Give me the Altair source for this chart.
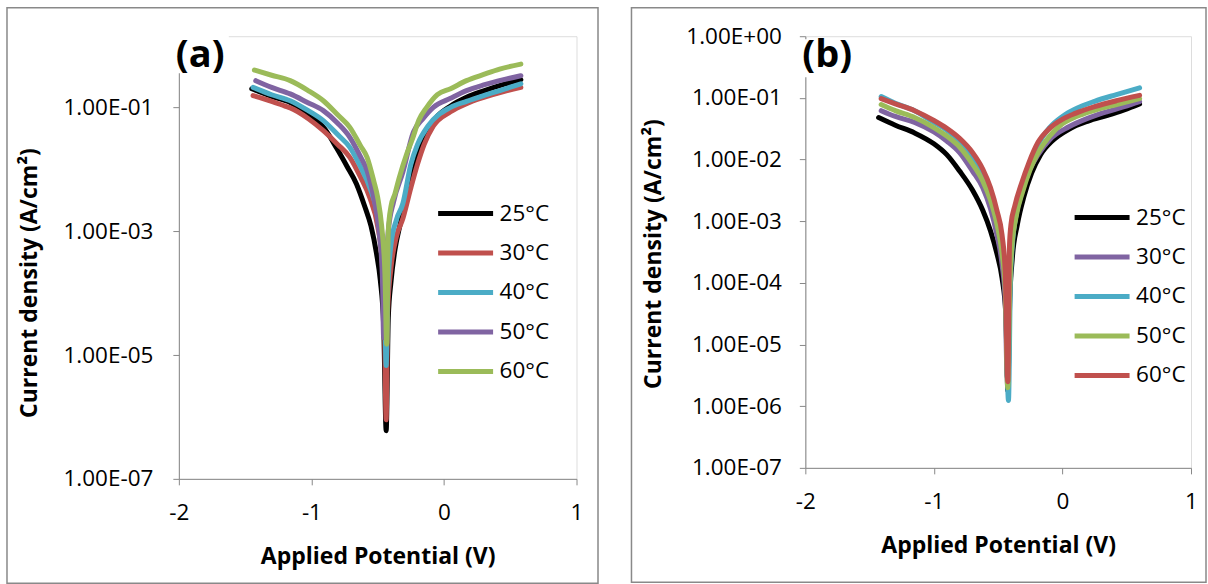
import altair as alt
import pandas as pd

SERIES = ["25°C", "30°C", "40°C", "50°C", "60°C"]
A_COLORS = ["#000000", "#C0504D", "#4BACC6", "#8064A2", "#9BBB59"]
B_COLORS = ["#000000", "#8064A2", "#4BACC6", "#9BBB59", "#C0504D"]

# ---- panel (a): potential (V) and current density (A/cm2) ----
a25_E = [-1.45, -1.30, -1.16, -1.02, -0.90, -0.81, -0.73, -0.66, -0.60, -0.55, -0.51, -0.48, -0.455, -0.436,
         -0.42, -0.40, -0.37, -0.33, -0.28, -0.22, -0.15, -0.06, 0.05, 0.17, 0.30, 0.45, 0.58]
a25_i = [0.20, 0.15, 0.12, 0.078, 0.045, 0.022, 0.011, 5.8e-3, 2.6e-3, 1.2e-3, 4.5e-4, 1.6e-4, 3e-5, 6e-7,
         4e-5, 1.5e-4, 5e-4, 1.3e-3, 3.8e-3, 0.011, 0.034, 0.068, 0.105, 0.145, 0.185, 0.235, 0.28]

a30_E = [-1.44, -1.30, -1.20, -1.16, -1.02, -0.91, -0.80, -0.71, -0.63, -0.56, -0.50, -0.47, -0.45, -0.436,
         -0.425, -0.40, -0.36, -0.31, -0.25, -0.20, -0.15, -0.08, 0.05, 0.17, 0.30, 0.45, 0.58]
a30_i = [0.155, 0.125, 0.105, 0.098, 0.065, 0.042, 0.025, 0.0156, 7.5e-3, 3.5e-3, 1.2e-3, 4e-4, 5e-5, 9e-7,
         5e-5, 2.5e-4, 8e-4, 1.6e-3, 5e-3, 0.012, 0.025, 0.05, 0.085, 0.115, 0.145, 0.18, 0.21]

a40_E = [-1.44, -1.30, -1.16, -1.03, -0.91, -0.80, -0.71, -0.63, -0.56, -0.50, -0.47, -0.45, -0.436,
         -0.425, -0.40, -0.36, -0.31, -0.25, -0.20, -0.12, 0.05, 0.17, 0.30, 0.45, 0.58]
a40_i = [0.21, 0.16, 0.128, 0.09, 0.061, 0.036, 0.0226, 0.011, 5.1e-3, 1.8e-3, 6e-4, 1e-4, 6.8e-6,
         1e-4, 6e-4, 1.5e-3, 2.8e-3, 0.012, 0.025, 0.05, 0.1, 0.125, 0.155, 0.195, 0.24]

a50_E = [-1.42, -1.30, -1.16, -1.03, -0.91, -0.80, -0.71, -0.63, -0.58, -0.53, -0.49, -0.465, -0.455,
         -0.44, -0.42, -0.38, -0.31, -0.23, -0.16, -0.08, 0.05, 0.17, 0.30, 0.45, 0.58]
a50_i = [0.27, 0.21, 0.165, 0.12, 0.0885, 0.055, 0.0328, 0.016, 9.5e-3, 3.5e-3, 1e-3, 2e-4, 1.9e-5,
         2e-4, 1e-3, 3e-3, 9e-3, 0.04, 0.065, 0.1, 0.14, 0.186, 0.23, 0.28, 0.325]

a60_E = [-1.43, -1.30, -1.16, -1.03, -0.91, -0.80, -0.71, -0.63, -0.58, -0.53, -0.50, -0.47, -0.445, -0.432,
         -0.42, -0.40, -0.37, -0.34, -0.28, -0.24, -0.19, -0.13, -0.05, 0.05, 0.17, 0.30, 0.42, 0.58]
a60_i = [0.40, 0.33, 0.27, 0.19, 0.128, 0.075, 0.0475, 0.024, 0.0156, 6.5e-3, 3.5e-3, 1.2e-3, 2e-4, 1.5e-5,
         1e-3, 2.5e-3, 4e-3, 7e-3, 0.018, 0.03, 0.062, 0.1, 0.16, 0.2, 0.27, 0.34, 0.415, 0.50]

# ---- panel (b) ----
b25_E = [-1.43, -1.30, -1.15, -1.00, -0.90, -0.80, -0.70, -0.62, -0.56, -0.51, -0.47, -0.44, -0.425,
         -0.41, -0.39, -0.35, -0.30, -0.24, -0.17, -0.08, 0.05, 0.20, 0.35, 0.48, 0.60]
b25_i = [0.048, 0.036, 0.027, 0.018, 0.012, 6.5e-3, 3.2e-3, 1.5e-3, 7e-4, 3e-4, 1.2e-4, 3e-5, 1.8e-6,
         5e-5, 2.5e-4, 9e-4, 2.5e-3, 6e-3, 0.012, 0.02, 0.031, 0.042, 0.052, 0.064, 0.08]

b30_E = [-1.41, -1.30, -1.15, -1.00, -0.90, -0.80, -0.70, -0.62, -0.56, -0.51, -0.47, -0.445, -0.43,
         -0.415, -0.40, -0.37, -0.32, -0.26, -0.19, -0.10, 0.05, 0.20, 0.35, 0.48, 0.60]
b30_i = [0.062, 0.05, 0.04, 0.028, 0.02, 0.013, 6.5e-3, 3.5e-3, 1.6e-3, 6e-4, 2e-4, 5e-5, 3e-6,
         6e-5, 3e-4, 1e-3, 2.8e-3, 6.5e-3, 0.012, 0.021, 0.034, 0.047, 0.06, 0.072, 0.087]

b40_E = [-1.41, -1.30, -1.15, -1.00, -0.90, -0.80, -0.70, -0.62, -0.56, -0.51, -0.47, -0.445, -0.42,
         -0.405, -0.39, -0.36, -0.31, -0.25, -0.18, -0.10, 0.0, 0.10, 0.25, 0.42, 0.60]
b40_i = [0.105, 0.082, 0.062, 0.04, 0.03, 0.02, 0.011, 6e-3, 2.8e-3, 1.2e-3, 4e-4, 1.2e-4, 1.24e-6,
         1e-4, 4e-4, 1.3e-3, 3.5e-3, 8.5e-3, 0.019, 0.033, 0.05, 0.066, 0.088, 0.113, 0.145]

b50_E = [-1.41, -1.30, -1.15, -1.00, -0.90, -0.80, -0.70, -0.62, -0.56, -0.51, -0.47, -0.445, -0.425,
         -0.41, -0.395, -0.36, -0.31, -0.25, -0.18, -0.10, 0.0, 0.10, 0.25, 0.42, 0.60]
b50_i = [0.078, 0.062, 0.048, 0.033, 0.024, 0.016, 8.5e-3, 4.5e-3, 2.2e-3, 9e-4, 3e-4, 8e-5, 2e-6,
         8e-5, 3.5e-4, 1.2e-3, 3e-3, 7e-3, 0.014, 0.024, 0.038, 0.049, 0.063, 0.078, 0.097]

b60_E = [-1.41, -1.30, -1.15, -1.00, -0.90, -0.80, -0.70, -0.62, -0.56, -0.51, -0.47, -0.445, -0.425,
         -0.412, -0.40, -0.37, -0.32, -0.26, -0.19, -0.10, 0.0, 0.10, 0.25, 0.42, 0.60]
b60_i = [0.097, 0.08, 0.062, 0.043, 0.032, 0.022, 0.013, 7e-3, 3.5e-3, 1.5e-3, 6e-4, 1.5e-4, 2.5e-6,
         4e-4, 9e-4, 1.8e-3, 4e-3, 9e-3, 0.019, 0.032, 0.045, 0.056, 0.072, 0.09, 0.11]

A_YTICKS = [1e-7, 1e-5, 1e-3, 1e-1]
B_YTICKS = [1e-7, 1e-6, 1e-5, 1e-4, 1e-3, 1e-2, 1e-1, 1e0]
X_TICKS = [-2, -1, 0, 1]

FONT = "Open Sans"
AXIS_GREY = "#868686"
SCI_LABEL = ("'1.00E' + (round(log(datum.value)/LN10) < 0 ? '-' : '+') + "
             "(abs(round(log(datum.value)/LN10)) < 10 ? '0' : '') + abs(round(log(datum.value)/LN10))")


def table(pairs):
    rows = []
    for name, es, cur in pairs:
        for k, (e, c) in enumerate(zip(es, cur)):
            rows.append({"series": name, "E": e, "i": c, "k": k})
    return pd.DataFrame(rows)


def panel(df, colors, tag, width, height, ymax, yticks, ylabel_pad, leg_x, leg_y,
          ytitle_x, ytitle_y, frame_box, cover_box):
    one = alt.Data(values=[{}])
    x = alt.X("E:Q",
              scale=alt.Scale(domain=[-2, 1], nice=False, zero=False),
              axis=alt.Axis(values=X_TICKS, labelExpr="'' + datum.value", grid=False,
                            labelFlush=False, labelOverlap=False,
                            tickSize=6, labelPadding=17, labelFontSize=22.5, labelFont=FONT,
                            title="Applied Potential (V)", titleFont=FONT, titleFontSize=23,
                            titleFontWeight="bold", titleX=width / 2, titleY=85,
                            titleBaseline="alphabetic"))
    y = alt.Y("i:Q",
              scale=alt.Scale(type="log", domain=[1e-7, ymax], nice=False),
              axis=alt.Axis(values=yticks, labelExpr=SCI_LABEL, grid=False,
                            labelFlush=False, labelOverlap=False,
                            tickSize=6, labelPadding=ylabel_pad, labelFontSize=22.5, labelFont=FONT,
                            title="Current density (A/cm²)", titleFont=FONT, titleFontSize=23,
                            titleFontWeight="bold", titleX=ytitle_x, titleY=ytitle_y,
                            titleBaseline="middle", titleAngle=270))
    color = alt.Color("series:N",
                      scale=alt.Scale(domain=SERIES, range=colors),
                      legend=alt.Legend(orient="none", legendX=leg_x, legendY=leg_y, title=None,
                                        symbolType="stroke", symbolSize=3025, symbolStrokeWidth=5,
                                        clipHeight=34, rowPadding=5.5, labelOffset=4,
                                        labelFont=FONT, labelFontSize=22.5, labelColor="black",
                                        padding=0))
    lines = alt.Chart(df).mark_line(strokeWidth=5, interpolate="monotone",
                                    strokeCap="round", strokeJoin="round").encode(
        x=x, y=y, color=color, order="k:Q")

    fx1, fx2, fy1, fy2 = frame_box
    frame = alt.Chart(one).mark_rect(filled=False, stroke="#898989", strokeWidth=1.5).encode(
        x=alt.value(fx1), x2=alt.value(fx2), y=alt.value(fy1), y2=alt.value(fy2))
    cx1, cx2, cy1, cy2 = cover_box
    cover = alt.Chart(one).mark_rect(color="white").encode(
        x=alt.value(cx1), x2=alt.value(cx2), y=alt.value(cy1), y2=alt.value(cy2))
    label = alt.Chart(one).mark_text(text=tag, font=FONT, fontSize=38, fontWeight="bold",
                                     align="left", baseline="middle", color="black").encode(
        x=alt.value(-3), y=alt.value(20))
    return alt.layer(frame, lines, cover, label).properties(width=width, height=height)


df_a = table([("25°C", a25_E, a25_i), ("30°C", a30_E, a30_i), ("40°C", a40_E, a40_i),
              ("50°C", a50_E, a50_i), ("60°C", a60_E, a60_i)])
df_b = table([("25°C", b25_E, b25_i), ("30°C", b30_E, b30_i), ("40°C", b40_E, b40_i),
              ("50°C", b50_E, b50_i), ("60°C", b60_E, b60_i)])

left = panel(df_a, A_COLORS, "(a)", 398, 443, 1.41, A_YTICKS, 20, 257, 160.5,
             -149, 246.5, (-172, 419.5, -28.5, 547.5), (-8, 50, -2, 37))
right = panel(df_b, B_COLORS, "(b)", 386, 432, 1.0, B_YTICKS, 18, 267, 164.5,
              -152, 217.5, (-174, 401, -28.5, 546.5), (-8, 50, 3, 41))

chart = alt.hconcat(left, right, spacing=30).resolve_scale(
    color="independent"
).resolve_legend(
    color="independent"
).properties(
    padding={"left": 5, "top": 6, "right": 0, "bottom": 0}
).configure_view(stroke="transparent").configure_axis(
    domainColor=AXIS_GREY, tickColor=AXIS_GREY, domainWidth=1.5, tickWidth=1.5,
    labelColor="black", titleColor="black"
).configure(background="white")

chart.save("out.html", embed_options={"renderer": "svg", "actions": False})
